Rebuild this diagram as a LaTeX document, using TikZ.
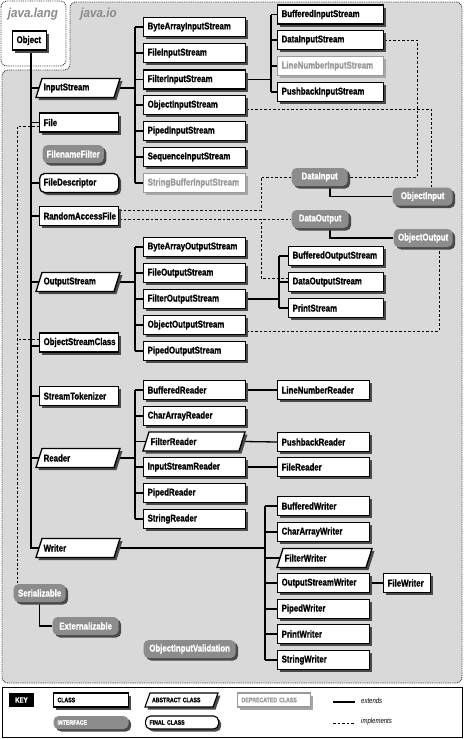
\documentclass[tikz,border=0pt]{standalone}
\usepackage{fontspec}
\setmainfont{Liberation Sans}[FakeStretch=0.8, BoldFeatures={FakeBold=1.2}]
\newfontfamily\hdrfont{Liberation Sans}[FakeStretch=0.9]
\usetikzlibrary{shadows}
\definecolor{iobg}{HTML}{D9D9D9}
\definecolor{ifcfill}{HTML}{8C8C8C}
\definecolor{shdcol}{HTML}{4A4A4A}
\definecolor{depcol}{HTML}{9A9A9A}
\definecolor{hdrcol}{HTML}{8A8A8A}
\pgfdeclarelayer{bg}
\pgfdeclarelayer{lines}
\pgfsetlayers{bg,lines,main}
\tikzset{
  shd/.style={drop shadow={shadow xshift=2.5pt, shadow yshift=-2.5pt, fill=shdcol, opacity=1}},
  lshd/.style={drop shadow={shadow xshift=2.5pt, shadow yshift=-2.5pt, fill=black!35, opacity=1}},
  base/.style={anchor=west, minimum height=19pt, inner xsep=4pt, inner ysep=0pt,
    font=\fontsize{9.8}{10}\selectfont\bfseries, align=left, line width=1.3pt},
  cls/.style={base, draw=black, fill=white, shd},
  depr/.style={base, draw=depcol, fill=white, text=depcol, lshd},
  ifc/.style={base, fill=ifcfill, text=white, rounded corners=5pt, shd, minimum height=18pt, align=center},
  fin/.style={cls, rounded corners=5pt},
  absshape/.style={draw=black, fill=white, line width=1.3pt, shd},
  kbase/.style={anchor=west, minimum height=14pt, inner xsep=4pt, inner ysep=0pt,
    font=\fontsize{6.5}{7}\selectfont\bfseries, align=left, line width=1.1pt},
  kcls/.style={kbase, draw=black, fill=white, shd},
  kdep/.style={kbase, draw=depcol, fill=white, text=depcol, lshd},
  kifc/.style={kbase, fill=ifcfill, text=white, rounded corners=5pt, shd, minimum height=13pt},
  kfin/.style={kcls, rounded corners=5pt, minimum height=13pt},
  ktext/.style={anchor=west, inner sep=0pt, font=\fontsize{7.5}{8}\selectfont\itshape},
  wire/.style={line width=1.3pt},
  impl/.style={line width=0.8pt, dash pattern=on 2.5pt off 2pt},
  region/.style={draw=black!75, line width=0.9pt, dash pattern=on 0.9pt off 0.9pt, rounded corners=6pt},
  hdr/.style={inner sep=0pt, text=hdrcol, font=\hdrfont\fontsize{13}{13}\selectfont\bfseries\itshape},
}
\newcommand\absnode[5]{%
  \pgfmathsetmacro\abstw{#4-14}%
  \path[absshape] ({#2+6},{#3-9.5}) -- ({#2+#4},{#3-9.5}) -- ({#2+#4-6},{#3+9.5}) -- ({#2},{#3+9.5}) -- cycle;
  \node[base, text width=\abstw pt] (#1) at ({#2+3},#3) {#5};
}
\begin{document}
\begin{tikzpicture}[x=1pt,y=-1pt]
\useasboundingbox (0,0) rectangle (464,739);
\begin{pgfonlayer}{bg}
  \fill[white] (0,0) rectangle (464,739);
  \draw[region, fill=iobg] (70,2) -- (462,2) -- (462,683) -- (2,683) -- (2,70) -- (70,70) -- cycle;
  \draw[region, fill=white] (1,1) rectangle (66,66);
  \draw[line width=1pt, fill=white] (2,687) rectangle (462,737);
\end{pgfonlayer}

% headers
\node[hdr] (jl) at (33,14) {java.lang};
\node[hdr] (jio) at (98.5,14) {java.io};

% java.lang
\node[cls, text width=26pt] (obj) at (12,40.5) {Object};

% left column
\absnode{is}{36}{88}{84}{InputStream}
\node[cls, text width=71pt] (file) at (39,122.5) {File};
\node[ifc, minimum width=61pt] (ff) at (42,154) {FilenameFilter};
\node[fin, text width=71pt] (fd) at (39,183) {FileDescriptor};
\node[cls, text width=71pt] (raf) at (39,216) {RandomAccessFile};
\absnode{os}{36}{282}{84}{OutputStream}
\node[cls, text width=71pt] (osc) at (39,342.5) {ObjectStreamClass};
\node[cls, text width=71pt] (st) at (39,396) {StreamTokenizer};
\absnode{rd}{36}{458}{84}{Reader}
\absnode{wr}{36}{548}{84}{Writer}

% input streams
\node[cls, text width=94pt] (bais) at (143,27) {ByteArrayInputStream};
\node[cls, text width=94pt] (fis) at (143,53) {FileInputStream};
\node[cls, text width=94pt] (filis) at (143,79.5) {FilterInputStream};
\node[cls, text width=94pt] (ois) at (143,105) {ObjectInputStream};
\node[cls, text width=94pt] (pis) at (143,131) {PipedInputStream};
\node[cls, text width=94pt] (seqis) at (143,157) {SequenceInputStream};
\node[depr, text width=94pt] (sbis) at (143,183) {StringBufferInputStream};

\node[cls, text width=98pt] (bis) at (277,14.5) {BufferedInputStream};
\node[cls, text width=98pt] (dis) at (277,40) {DataInputStream};
\node[depr, text width=98pt] (lnis) at (277,66) {LineNumberInputStream};
\node[cls, text width=98pt] (pbis) at (277,92) {PushbackInputStream};

% interfaces (data)
\node[ifc, minimum width=56pt] (di) at (291,177) {DataInput};
\node[ifc, minimum width=60pt] (oi) at (392,196.5) {ObjectInput};
\node[ifc, minimum width=57pt] (do) at (291,219) {DataOutput};
\node[ifc, minimum width=59pt] (oo) at (393,238) {ObjectOutput};

% output streams
\node[cls, text width=94pt] (baos) at (143,247) {ByteArrayOutputStream};
\node[cls, text width=94pt] (fos) at (143,273) {FileOutputStream};
\node[cls, text width=94pt] (filos) at (143,299) {FilterOutputStream};
\node[cls, text width=94pt] (oos) at (143,325) {ObjectOutputStream};
\node[cls, text width=94pt] (pos) at (143,351) {PipedOutputStream};

\node[cls, text width=87pt] (bos) at (288,256) {BufferedOutputStream};
\node[cls, text width=87pt] (dos) at (288,282) {DataOutputStream};
\node[cls, text width=87pt] (ps) at (288,308) {PrintStream};

% readers
\node[cls, text width=94pt] (br) at (143,390) {BufferedReader};
\node[cls, text width=94pt] (car) at (143,416) {CharArrayReader};
\absnode{fr}{143}{441.5}{102}{FilterReader}
\node[cls, text width=94pt] (isr) at (143,467) {InputStreamReader};
\node[cls, text width=94pt] (pr) at (143,493) {PipedReader};
\node[cls, text width=94pt] (sr) at (143,519) {StringReader};

\node[cls, text width=84pt] (lnr) at (277,390) {LineNumberReader};
\node[cls, text width=84pt] (pbr) at (277,442) {PushbackReader};
\node[cls, text width=84pt] (frd) at (277,467) {FileReader};

% writers
\node[cls, text width=84pt] (bw) at (277,506) {BufferedWriter};
\node[cls, text width=84pt] (caw) at (277,532) {CharArrayWriter};
\absnode{fw}{277}{558}{95}{FilterWriter}
\node[cls, text width=84pt] (osw) at (277,583) {OutputStreamWriter};
\node[cls, text width=84pt] (pw) at (277,609) {PipedWriter};
\node[cls, text width=84pt] (prw) at (277,634) {PrintWriter};
\node[cls, text width=84pt] (sw) at (277,660) {StringWriter};
\node[cls, text width=39pt] (fwr) at (383,583) {FileWriter};

% other interfaces
\node[ifc, minimum width=52pt] (ser) at (13,593) {Serializable};
\node[ifc, minimum width=66pt] (ext) at (52,626) {Externalizable};
\node[ifc, minimum width=92pt] (oiv) at (143,649) {ObjectInputValidation};

% bus coordinates
\coordinate (trunk) at (31,0);
\coordinate (busA) at (135,0);
\coordinate (busB) at (271,0);
\coordinate (busC) at (279,0);
\coordinate (busW) at (265,0);
\coordinate (dL) at (17,0);
\coordinate (dM) at (261,0);
\coordinate (dR1) at (417,0);
\coordinate (dR2) at (431,0);
\coordinate (dR3) at (439,0);
\coordinate (iX) at (330,0);

\begin{pgfonlayer}{lines}
  % trunk
  \draw[wire] (obj.south -| trunk) |- (wr.west);
  \foreach \n in {is,file,fd,raf,os,st,rd}
    \draw[wire] (\n.west -| trunk) -- (\n.west);
  \draw[wire] ([yshift=-3.5pt]osc.west -| trunk) -- ([yshift=-3.5pt]osc.west);
  % input streams
  \draw[wire] (is.east) -- (is.east -| busA);
  \draw[wire] (bais.west -| busA) -- (sbis.west -| busA);
  \foreach \n in {bais,fis,filis,ois,pis,seqis,sbis}
    \draw[wire] (\n.west -| busA) -- (\n.west);
  \draw[wire] (filis.east) -- (filis.east -| busB);
  \draw[wire] (bis.west -| busB) -- (pbis.west -| busB);
  \foreach \n in {bis,dis,lnis,pbis}
    \draw[wire] (\n.west -| busB) -- (\n.west);
  % output streams
  \draw[wire] (os.east) -- (os.east -| busA);
  \draw[wire] (baos.west -| busA) -- (pos.west -| busA);
  \foreach \n in {baos,fos,filos,oos,pos}
    \draw[wire] (\n.west -| busA) -- (\n.west);
  \draw[wire] (filos.east) -- (filos.east -| busC);
  \draw[wire] (bos.west -| busC) -- (ps.west -| busC);
  \foreach \n in {bos,dos,ps}
    \draw[wire] (\n.west -| busC) -- (\n.west);
  % readers
  \draw[wire] (rd.east) -- (rd.east -| busA);
  \draw[wire] (br.west -| busA) -- (sr.west -| busA);
  \foreach \n in {br,car,fr,isr,pr,sr}
    \draw[wire] (\n.west -| busA) -- (\n.west);
  \draw[wire] (br.east) -- (lnr.west);
  \draw[wire] (fr.east) -- (pbr.west);
  \draw[wire] (isr.east) -- (frd.west);
  % writers
  \draw[wire] (wr.east) -- (wr.east -| busW);
  \draw[wire] (bw.west -| busW) -- (sw.west -| busW);
  \foreach \n in {bw,caw,fw,osw,pw,prw,sw}
    \draw[wire] (\n.west -| busW) -- (\n.west);
  \draw[wire] (osw.east) -- (fwr.west);
  % interface extends
  \draw[wire] (di.south -| iX) |- (oi.west);
  \draw[wire] (do.south -| iX) |- (oo.west);
  \draw[wire] (ser.south) |- (ext.west);
  % implements
  \draw[impl] ([yshift=-3.5pt]file.west) -| (ser.north -| dL);
  \draw[impl] ([yshift=3.5pt]osc.west) -- ([yshift=3.5pt]osc.west -| dL);
  \draw[impl] ([yshift=6pt]raf.east) -| (di.west -| dM) -- (di.west);
  \draw[impl] (do.west -| raf.east) -- (do.west);
  \draw[impl] ([yshift=4pt]dos.west) -| (do.west -| dM);
  \draw[impl] (dis.east) -| (di.east -| dR1) -- (di.east);
  \draw[impl] ([yshift=-4pt]ois.east) -| (oi.north -| dR2);
  \draw[impl] ([yshift=-6pt]oos.east) -| (oo.south -| dR3);
\end{pgfonlayer}

% key
\node[fill=black, text=white, font=\fontsize{7.5}{8}\selectfont\bfseries, minimum width=25pt, minimum height=14pt, inner sep=0pt] (key) at (21.5,700) {KEY};
\node[kcls, text width=67pt] (kc) at (53,700) {CLASS};
\path[absshape, line width=1.1pt] (150,693) -- (218,693) -- (213,707) -- (145,707) -- cycle;
\node[kbase, text width=60pt] (kabs) at (147.5,700) {ABSTRACT CLASS};
\node[kdep, text width=65pt] (kd) at (237,700) {DEPRECATED CLASS};
\node[kifc, text width=67pt] (ki) at (53,722.5) {INTERFACE};
\node[kfin, text width=65pt] (kf) at (145,722.5) {FINAL CLASS};
\coordinate (e1) at (333,702);
\coordinate (e2) at (355,702);
\draw[wire] (e1) -- (e2);
\node[ktext] (et) at (361,701) {extends};
\coordinate (m1) at (333,723);
\coordinate (m2) at (355,723);
\draw[impl] (m1) -- (m2);
\node[ktext] (mt) at (361,722) {implements};
\end{tikzpicture}
\end{document}
